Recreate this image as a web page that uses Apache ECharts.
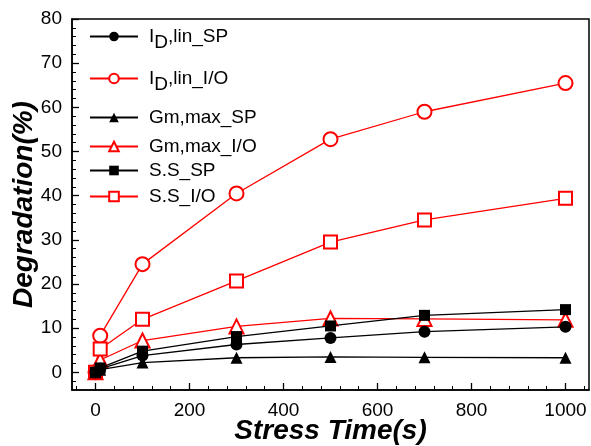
<!DOCTYPE html>
<html>
<head>
<meta charset="utf-8">
<script src="https://cdn.jsdelivr.net/npm/echarts@6/dist/echarts.min.js"></script>
<style>
  html, body { margin: 0; padding: 0; background: #fff; }
  #chart { width: 591px; height: 446px; }
</style>
</head>
<body>
<div id="chart"></div>
<script>
const stressTime = [0, 10, 100, 300, 500, 700, 1000];
const idLinSP = [0, 0.8, 3.8, 6.3, 7.8, 9.2, 10.3];
const idLinIO = [0, 8.3, 24.5, 40.5, 52.8, 59.0, 65.5];
const gmMaxSP = [0, 0.6, 2.2, 3.3, 3.5, 3.4, 3.3];
const gmMaxIO = [0, 2.8, 7.2, 10.4, 12.2, 12.1, 11.9];
const ssSP = [0, 1.0, 4.8, 8.1, 10.5, 12.9, 14.2];
const ssIO = [0, 5.3, 12.0, 20.7, 29.5, 34.5, 39.4];
const xTicks = [0, 200, 400, 600, 800, 1000];
const yTicks = [0, 10, 20, 30, 40, 50, 60, 70, 80];

const pairs = (ys) => stressTime.map((x, i) => [x, ys[i]]);

const minorX = [];
for (let v = -40; v <= 1040; v += 40) minorX.push(v);
const minorY = [];
for (let v = -2; v <= 80; v += 2) minorY.push(v);

const FONT = "Liberation Sans, Arial";

const lineSeries = (name, ys, color, symbol, size, hollow) => ({
  name: name,
  type: "line",
  data: pairs(ys),
  symbol: symbol,
  symbolSize: size,
  showSymbol: true,
  lineStyle: { color: color, width: 1.3 },
  itemStyle: {
    color: hollow ? "#fff" : color,
    borderColor: color,
    borderWidth: hollow ? 2 : 0,
  },
  z: hollow ? 3 : 4,
});

const series = [
  lineSeries("ID,lin_SP", idLinSP, "#000", "circle", 12, false),
  lineSeries("ID,lin_I/O", idLinIO, "#ff0000", "circle", 14, true),
  lineSeries("Gm,max_SP", gmMaxSP, "#000", "triangle", 12, false),
  lineSeries("Gm,max_I/O", gmMaxIO, "#ff0000", "triangle", 14, true),
  lineSeries("S.S_SP", ssSP, "#000", "rect", 11, false),
  lineSeries("S.S_I/O", ssIO, "#ff0000", "rect", 13, true),
];

const legendTops = [22, 64, 103, 132, 156, 182];
const legends = series.map((s, i) => ({
  data: [s.name],
  left: 84,
  top: legendTops[i],
  itemWidth: 48,
  itemHeight: 12,
  itemGap: 0,
  formatter: (name) => name.startsWith("ID") ? "{a|I}{b|D}{a|" + name.slice(2) + "}" : name,
  textStyle: {
    fontFamily: FONT,
    fontSize: 19,
    color: "#000",
    padding: [0, 0, 0, 6],
    rich: {
      a: { fontSize: 19, fontFamily: FONT, color: "#000" },
      b: { fontSize: 19, fontFamily: FONT, color: "#000", padding: [13, 0, 0, 0] },
    },
  },
  selectedMode: false,
}));

const chart = echarts.init(document.getElementById("chart"));
chart.setOption({
  animation: false,
  backgroundColor: "#fff",
  grid: {
    left: 72,
    right: 2,
    top: 19,
    bottom: 56,
    outerBoundsMode: "none",
    containLabel: false,
    show: true,
    borderColor: "#000",
    borderWidth: 1.5,
  },
  legend: legends,
  xAxis: [
    {
      type: "value",
      min: -50,
      max: 1050,
      name: "Stress Time(s)",
      nameLocation: "middle",
      nameMoveOverlap: false,
      nameGap: 27,
      nameTextStyle: {
        fontFamily: FONT,
        fontSize: 28,
        fontWeight: "bold",
        fontStyle: "italic",
        color: "#000",
      },
      axisLine: { show: true, onZero: false, lineStyle: { color: "#000", width: 1.5 } },
      axisTick: { show: true, inside: true, length: 7, customValues: xTicks, lineStyle: { color: "#000", width: 1.3 } },
      axisLabel: {
        customValues: xTicks,
        margin: 11,
        formatter: (v) => String(v),
        fontFamily: FONT,
        fontSize: 19,
        color: "#000",
      },
      splitLine: { show: false },
    },
    {
      type: "value",
      position: "bottom",
      min: -50,
      max: 1050,
      axisLine: { show: false, onZero: false },
      axisTick: { show: true, inside: true, length: 4, customValues: minorX, lineStyle: { color: "#000", width: 1 } },
      axisLabel: { show: false },
      splitLine: { show: false },
    },
  ],
  yAxis: [
    {
      type: "value",
      min: -4,
      max: 80,
      name: "Degradation(%)",
      nameLocation: "middle",
      nameMoveOverlap: false,
      nameGap: 34,
      nameTextStyle: {
        fontFamily: FONT,
        fontSize: 28,
        fontWeight: "bold",
        fontStyle: "italic",
        color: "#000",
      },
      axisLine: { show: true, onZero: false, lineStyle: { color: "#000", width: 1.5 } },
      axisTick: { show: true, inside: true, length: 7, customValues: yTicks, lineStyle: { color: "#000", width: 1.3 } },
      axisLabel: {
        customValues: yTicks,
        margin: 10,
        fontFamily: FONT,
        fontSize: 19,
        color: "#000",
      },
      splitLine: { show: false },
    },
    {
      type: "value",
      position: "left",
      min: -4,
      max: 80,
      axisLine: { show: false, onZero: false },
      axisTick: { show: true, inside: true, length: 4, customValues: minorY, lineStyle: { color: "#000", width: 1 } },
      axisLabel: { show: false },
      splitLine: { show: false },
    },
  ],
  series: series,
});
</script>
</body>
</html>
